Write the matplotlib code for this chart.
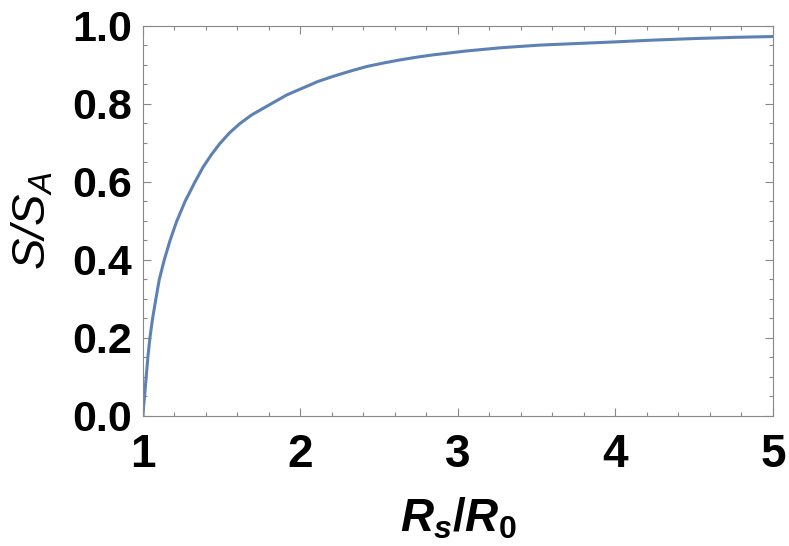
import numpy as np
import matplotlib.pyplot as plt
from matplotlib.ticker import MultipleLocator

#%% Data
rs_r0 = [1.000, 1.004, 1.010, 1.021, 1.032, 1.044, 1.061, 1.082, 1.103, 1.135,
         1.171, 1.213, 1.267, 1.330, 1.383, 1.436, 1.489, 1.552, 1.616, 1.690,
         1.764, 1.838, 1.912, 1.986, 2.056, 2.106, 2.208, 2.314, 2.420, 2.526,
         2.632, 2.737, 2.843, 2.949, 3.055, 3.161, 3.267, 3.373, 3.521, 3.722,
         3.986, 4.251, 4.516, 4.770, 5.000]
s_sa  = [0.000, 0.025, 0.050, 0.103, 0.154, 0.200, 0.250, 0.300, 0.349, 0.400,
         0.449, 0.498, 0.550, 0.600, 0.639, 0.671, 0.699, 0.727, 0.750, 0.772,
         0.789, 0.806, 0.823, 0.836, 0.848, 0.857, 0.871, 0.884, 0.896, 0.905,
         0.913, 0.920, 0.926, 0.931, 0.936, 0.940, 0.944, 0.947, 0.951, 0.9545,
         0.959, 0.964, 0.968, 0.971, 0.973]

x_ticks = [1, 2, 3, 4, 5]
y_ticks = [0.0, 0.2, 0.4, 0.6, 0.8, 1.0]

#%% Style
plt.rcParams['font.family']      = 'Liberation Sans'
plt.rcParams['mathtext.fontset'] = 'custom'
plt.rcParams['mathtext.it']      = 'Liberation Sans:bold:italic'
plt.rcParams['mathtext.rm']      = 'Liberation Sans:bold'
plt.rcParams['mathtext.sf']      = 'Liberation Sans:italic'

frame_col = '#888888'

fig = plt.figure(figsize=(7.89, 5.46), dpi=100)
ax  = fig.add_axes([0.1812, 0.2381, 0.7985, 0.7143])

ax.plot(rs_r0, s_sa, color='#5E81B5', linewidth=2.2)

ax.set_xlim(1, 5)
ax.set_ylim(0, 1)
ax.set_xticks(x_ticks)
ax.set_yticks(y_ticks)
ax.set_xticklabels([str(v) for v in x_ticks])
ax.set_yticklabels([f'{v:.1f}' for v in y_ticks])
ax.xaxis.set_minor_locator(MultipleLocator(0.2))
ax.yaxis.set_minor_locator(MultipleLocator(0.05))

ax.tick_params(which='both', direction='in', top=True, right=True, color=frame_col, width=0.8)
ax.tick_params(which='major', length=5.5)
ax.tick_params(which='minor', length=3)
ax.tick_params(axis='x', which='major', labelsize=33, pad=12)
ax.tick_params(axis='y', which='major', labelsize=31, pad=8)
for lbl in ax.get_xticklabels() + ax.get_yticklabels():
    lbl.set_fontweight('bold')
for sp in ax.spines.values():
    sp.set_color(frame_col)
    sp.set_linewidth(0.8)

ax.set_xlabel(r'$\mathit{R}_\mathit{s}/\mathit{R}_\mathrm{0}$', fontsize=33, labelpad=14)
ax.set_ylabel(r'$\mathsf{S/S}_\mathsf{A}$', fontsize=34, labelpad=12)

fig.savefig('out.png', dpi=100)
